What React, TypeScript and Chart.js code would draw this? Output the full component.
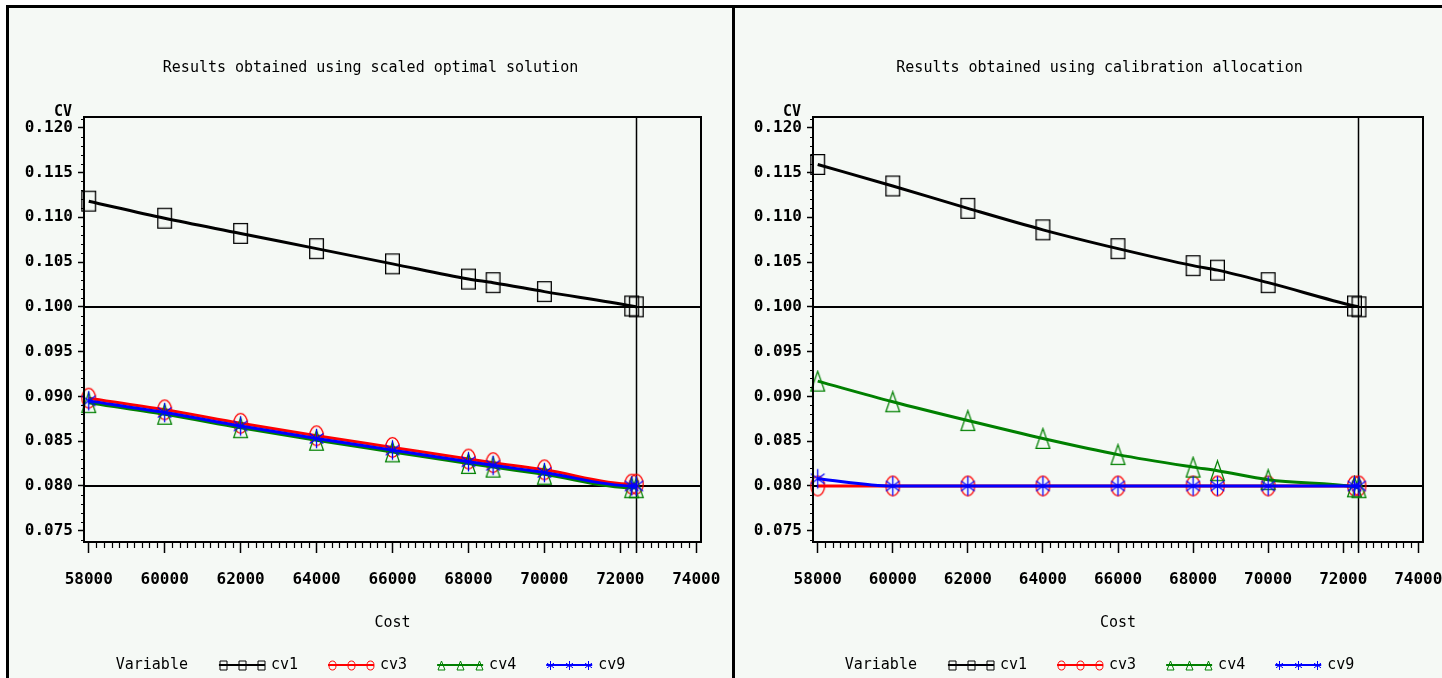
import React, { useEffect, useRef } from "react";
import { Chart, registerables } from "chart.js";

Chart.register(...registerables);

// ---------------- data ----------------
const costs = [58000, 60000, 62000, 64000, 66000, 68000, 68650, 70000, 72300, 72420];

// left panel: scaled optimal solution
const scaledCv1 = [0.1118, 0.1099, 0.1082, 0.1065, 0.1048, 0.1031, 0.1027, 0.1017, 0.1001, 0.1000];
const scaledCv3 = [0.0898, 0.0885, 0.0870, 0.0856, 0.0843, 0.0830, 0.0826, 0.0818, 0.0802, 0.0802];
const scaledCv4 = [0.0893, 0.0880, 0.0865, 0.0851, 0.0838, 0.0825, 0.0821, 0.0813, 0.0798, 0.0798];
const scaledCv9 = [0.0895, 0.0882, 0.0867, 0.0853, 0.0840, 0.0827, 0.0823, 0.0815, 0.0800, 0.0800];

// right panel: calibration allocation
const calibCv1 = [0.1159, 0.1135, 0.1110, 0.1086, 0.1065, 0.1046, 0.1041, 0.1027, 0.1001, 0.1000];
const calibCv3 = [0.0800, 0.0800, 0.0800, 0.0800, 0.0800, 0.0800, 0.0800, 0.0800, 0.0800, 0.0800];
const calibCv4 = [0.0917, 0.0894, 0.0873, 0.0853, 0.0835, 0.0821, 0.0817, 0.0807, 0.0799, 0.0798];
const calibCv9 = [0.0808, 0.0800, 0.0800, 0.0800, 0.0800, 0.0800, 0.0800, 0.0800, 0.0800, 0.0800];

const costTicks = [58000, 60000, 62000, 64000, 66000, 68000, 70000, 72000, 74000];
const cvTicks = [0.075, 0.08, 0.085, 0.09, 0.095, 0.1, 0.105, 0.11, 0.115, 0.12];
const targetCvs = [0.1, 0.08];
const budgetCost = 72400;

const seriesLabels = ["cv1", "cv3", "cv4", "cv9"];
const seriesColors = ["#000000", "#ff0000", "#008000", "#0000ff"];
type Marker = "square" | "circle" | "triangle" | "star";
const seriesMarkers: Marker[] = ["square", "circle", "triangle", "star"];

const leftTitle = "Results obtained using scaled optimal solution";
const rightTitle = "Results obtained using calibration allocation";
const xTitle = "Cost";
const yTitle = "CV";
const legendTitle = "Variable";

// ---------------- style ----------------
const MONO = "'DejaVu Sans Mono', 'Liberation Mono', monospace";
const BG = "#f5f9f5";
const X_MIN = 57875;
const X_MAX = 74125;
const Y_MIN = 0.07374;
const Y_MAX = 0.1212;
const CANVAS_H = 690;

function strokeMarker(ctx: CanvasRenderingContext2D, kind: Marker, cx: number, cy: number, w: number, h: number) {
  ctx.beginPath();
  if (kind === "square") {
    ctx.rect(cx - w / 2, cy - h / 2, w, h);
  } else if (kind === "circle") {
    ctx.ellipse(cx, cy, w / 2, h / 2, 0, 0, Math.PI * 2);
  } else if (kind === "triangle") {
    ctx.moveTo(cx, cy - h / 2);
    ctx.lineTo(cx + w / 2, cy + h / 2);
    ctx.lineTo(cx - w / 2, cy + h / 2);
    ctx.closePath();
  } else {
    ctx.moveTo(cx, cy - h / 2);
    ctx.lineTo(cx, cy + h / 2);
    ctx.moveTo(cx - w / 2, cy - h / 4);
    ctx.lineTo(cx + w / 2, cy + h / 4);
    ctx.moveTo(cx + w / 2, cy - h / 4);
    ctx.lineTo(cx - w / 2, cy + h / 4);
  }
  ctx.stroke();
}

function makeMarker(kind: Marker, color: string, w: number, h: number, lw: number) {
  const c = document.createElement("canvas");
  c.width = w + 2;
  c.height = h + 2;
  const ctx = c.getContext("2d")!;
  ctx.strokeStyle = color;
  ctx.lineWidth = lw;
  strokeMarker(ctx, kind, c.width / 2, c.height / 2, w - lw, h - lw);
  return c;
}

const sasDecor = {
  id: "sasDecor",
  beforeDatasetsDraw(chart: any) {
    const { ctx, chartArea: a, scales } = chart;
    ctx.save();
    ctx.strokeStyle = "#000";
    ctx.lineWidth = 2;
    for (const v of targetCvs) {
      const y = Math.round(scales.y.getPixelForValue(v));
      ctx.beginPath();
      ctx.moveTo(a.left, y);
      ctx.lineTo(a.right, y);
      ctx.stroke();
    }
    const bx = Math.round(scales.x.getPixelForValue(budgetCost)) + 0.5;
    ctx.lineWidth = 1.5;
    ctx.beginPath();
    ctx.moveTo(bx, a.top);
    ctx.lineTo(bx, a.bottom + 11);
    ctx.stroke();
    ctx.restore();
  },
  afterDraw(chart: any, _args: any, opts: any) {
    const { ctx, chartArea: a, scales } = chart;
    ctx.save();
    // frame
    ctx.strokeStyle = "#000";
    ctx.lineWidth = 2;
    ctx.strokeRect(a.left, a.top, a.right - a.left, a.bottom - a.top);
    // minor ticks
    ctx.lineWidth = 1.2;
    ctx.beginPath();
    for (let v = 58000; v <= 74000; v += 200) {
      if (v % 2000 === 0) continue;
      const x = Math.round(scales.x.getPixelForValue(v)) + 0.5;
      ctx.moveTo(x, a.bottom);
      ctx.lineTo(x, a.bottom + 6);
    }
    for (let k = 74; k <= 121; k++) {
      if (k % 5 === 0) continue;
      const y = Math.round(scales.y.getPixelForValue(k / 1000)) + 0.5;
      if (y < a.top || y > a.bottom) continue;
      ctx.moveTo(a.left - 3, y);
      ctx.lineTo(a.left, y);
    }
    ctx.stroke();

    ctx.fillStyle = "#000";
    ctx.textBaseline = "middle";
    // title
    ctx.font = `15px ${MONO}`;
    ctx.textAlign = "center";
    ctx.fillText(opts.title, chart.width / 2, 60);
    // x title
    ctx.fillText(xTitle, (a.left + a.right) / 2, 615);
    // y title
    ctx.font = `bold 15px ${MONO}`;
    ctx.textAlign = "right";
    ctx.fillText(yTitle, a.left - 12, 104);

    // legend
    ctx.font = `15px ${MONO}`;
    const ly = 657;
    const symW = 46, gapSym = 6, gapVar = 31, gapEntry = 30;
    const dss = chart.data.datasets;
    const varW = ctx.measureText(legendTitle).width;
    let total = varW + gapVar;
    dss.forEach((ds: any, i: number) => {
      total += symW + gapSym + ctx.measureText(ds.label).width;
      if (i < dss.length - 1) total += gapEntry;
    });
    let x = chart.width / 2 - total / 2;
    ctx.textAlign = "left";
    ctx.fillText(legendTitle, x, ly);
    x += varW + gapVar;
    dss.forEach((ds: any) => {
      ctx.strokeStyle = ds.borderColor;
      ctx.lineWidth = 2;
      ctx.beginPath();
      ctx.moveTo(x, ly);
      ctx.lineTo(x + symW, ly);
      ctx.stroke();
      ctx.lineWidth = 1;
      for (const off of [4, 23, 42]) {
        strokeMarker(ctx, ds.marker, Math.round(x + off) + 0.5, ly + 0.5, 7, 9);
      }
      x += symW + gapSym;
      ctx.fillStyle = "#000";
      ctx.fillText(ds.label, x, ly);
      x += ctx.measureText(ds.label).width + gapEntry;
    });
    ctx.restore();
  },
};

type PanelProps = {
  title: string;
  values: number[][];
  left: number;
  width: number;
  axisWidth: number;
  rightPad: number;
};

function Panel({ title, values, left, width, axisWidth, rightPad }: PanelProps) {
  const ref = useRef<HTMLCanvasElement>(null);
  const canvasW = width - 6;
  useEffect(() => {
    const canvas = ref.current!;
    const chart = new Chart(canvas, {
      type: "line",
      data: {
        datasets: values.map((vals, i) => ({
          label: seriesLabels[i],
          marker: seriesMarkers[i],
          data: costs.map((c, j) => ({ x: c, y: vals[j] })),
          borderColor: seriesColors[i],
          backgroundColor: seriesColors[i],
          borderWidth: 3,
          pointStyle: makeMarker(seriesMarkers[i], seriesColors[i], 15, 21, 1.3),
          pointRadius: 4,
          cubicInterpolationMode: "monotone",
          clip: false,
          order: values.length - i,
        })) as any,
      },
      options: {
        responsive: false,
        animation: false,
        events: [],
        layout: { padding: { left: 0, top: 109, right: rightPad, bottom: 56 } },
        plugins: {
          legend: { display: false },
          tooltip: { enabled: false },
          title: { display: false },
          sasDecor: { title },
        } as any,
        scales: {
          x: {
            type: "linear",
            min: X_MIN,
            max: X_MAX,
            afterBuildTicks: (s: any) => {
              s.ticks = costTicks.map((v) => ({ value: v }));
            },
            afterFit: (s: any) => {
              s.height = 100;
              s.paddingLeft = 0;
              s.paddingRight = 0;
            },
            grid: { display: true, drawOnChartArea: false, drawTicks: true, tickLength: 11, tickColor: "#000", tickWidth: 1.5 },
            border: { display: false },
            ticks: {
              color: "#000",
              font: { family: MONO, size: 16, weight: "bold" },
              padding: 17,
              maxRotation: 0,
              autoSkip: false,
              callback: (v: any) => String(v),
            },
          },
          y: {
            type: "linear",
            min: Y_MIN,
            max: Y_MAX,
            afterBuildTicks: (s: any) => {
              s.ticks = cvTicks.map((v) => ({ value: v }));
            },
            afterFit: (s: any) => {
              s.width = axisWidth;
              s.paddingTop = 0;
              s.paddingBottom = 0;
            },
            grid: { display: true, drawOnChartArea: false, drawTicks: true, tickLength: 6, tickColor: "#000", tickWidth: 1.5 },
            border: { display: false },
            ticks: {
              color: "#000",
              font: { family: MONO, size: 16, weight: "bold" },
              padding: 5,
              autoSkip: false,
              callback: (v: any) => Number(v).toFixed(3),
            },
          },
        },
      } as any,
      plugins: [sasDecor as any],
    });
    return () => chart.destroy();
  }, []);
  return (
    <div
      style={{
        position: "absolute",
        left,
        top: 5,
        width,
        height: 720,
        border: "3px solid #000",
        boxSizing: "border-box",
        background: BG,
      }}
    >
      <canvas
        ref={ref}
        width={canvasW}
        height={CANVAS_H}
        style={{ display: "block", width: canvasW, height: CANVAS_H }}
      />
    </div>
  );
}

export default function App() {
  return (
    <div
      style={{
        position: "fixed",
        left: 0,
        top: 0,
        width: 1442,
        height: 678,
        overflow: "hidden",
        background: "#ffffff",
      }}
    >
      <Panel
        title={leftTitle}
        values={[scaledCv1, scaledCv3, scaledCv4, scaledCv9]}
        left={6}
        width={729}
        axisWidth={75}
        rightPad={31}
      />
      <Panel
        title={rightTitle}
        values={[calibCv1, calibCv3, calibCv4, calibCv9]}
        left={732}
        width={735}
        axisWidth={78}
        rightPad={41}
      />
    </div>
  );
}
